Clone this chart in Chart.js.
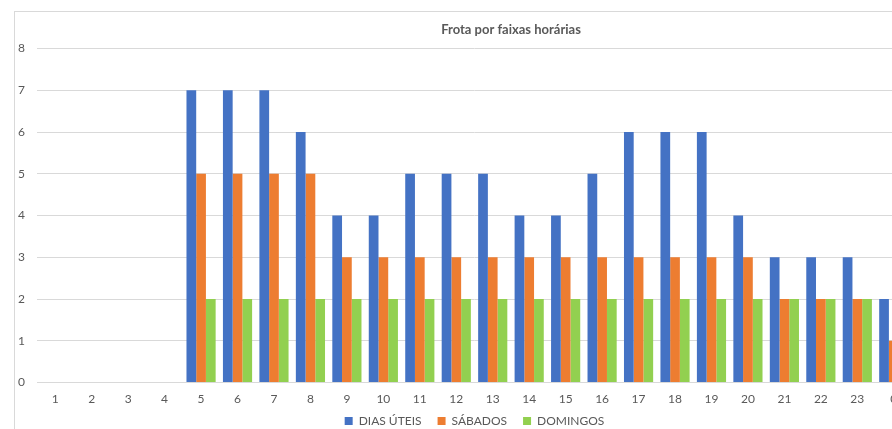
<!DOCTYPE html>
<html>
<head>
<meta charset="utf-8">
<script src="https://cdn.jsdelivr.net/npm/chart.js@4.4.0/dist/chart.umd.min.js"></script>
<style>
  html, body { margin: 0; padding: 0; background: #fff; overflow: hidden; }
  #frame {
    position: absolute; left: 14px; top: 11px;
    width: 992px; height: 450px;
    border: 1px solid #d9d9d9;
  }
  canvas { display: block; }
</style>
</head>
<body>
<div id="frame"><canvas id="chart" width="992" height="441"></canvas></div>
<script>
// Hours on the x axis (last one is midnight)
const hours = ['1', '2', '3', '4', '5', '6', '7', '8', '9', '10', '11', '12',
    '13', '14', '15', '16', '17', '18', '19', '20', '21', '22', '23', '0'];

// Fleet per hour band
const diasUteis = [0, 0, 0, 0, 7, 7, 7, 6, 4, 4, 5, 5, 5, 4, 4, 5, 6, 6, 6, 4, 3, 3, 3, 2];
const sabados   = [0, 0, 0, 0, 5, 5, 5, 5, 3, 3, 3, 3, 3, 3, 3, 3, 3, 3, 3, 3, 2, 2, 2, 1];
const domingos  = [0, 0, 0, 0, 2, 2, 2, 2, 2, 2, 2, 2, 2, 2, 2, 2, 2, 2, 2, 2, 2, 2, 2, 1];

const textColor = '#595959';
const gridColor = '#d9d9d9';
const fontFamily = 'Lato, "Open Sans", sans-serif';

// Title centred on the whole chart, legend pulled up closer to the axis
const layoutTweaks = {
    id: 'layoutTweaks',
    afterLayout(chart) {
        const t = chart.titleBlock;
        if (t) {
            t.left = 0;
            t.right = chart.width;
            t.width = chart.width;
        }
        const l = chart.legend;
        if (l) {
            l.top -= 16;
            l.bottom -= 16;
        }
    }
};

const ctx = document.getElementById('chart').getContext('2d');

new Chart(ctx, {
    type: 'bar',
    data: {
        labels: hours,
        datasets: [
            { label: 'DIAS ÚTEIS', data: diasUteis, backgroundColor: '#4472C4' },
            { label: 'SÁBADOS', data: sabados, backgroundColor: '#ED7D31' },
            { label: 'DOMINGOS', data: domingos, backgroundColor: '#92D050' }
        ]
    },
    options: {
        responsive: false,
        animation: false,
        layout: { padding: { left: 0, right: 95, top: 0, bottom: 0 } },
        datasets: {
            bar: { categoryPercentage: 0.8, barPercentage: 1.0, borderWidth: 0 }
        },
        scales: {
            x: {
                grid: { display: false, drawTicks: false },
                border: { color: gridColor },
                ticks: { color: textColor, padding: 9, font: { family: fontFamily, size: 12 } }
            },
            y: {
                min: 0,
                max: 8,
                grid: { color: gridColor, drawTicks: false },
                border: { display: false },
                ticks: { stepSize: 1, color: textColor, padding: 12, font: { family: fontFamily, size: 12 } },
                afterFit: scale => { scale.width = 22; }
            }
        },
        plugins: {
            title: {
                display: true,
                text: 'Frota por faixas horárias',
                color: textColor,
                font: { family: fontFamily, size: 13, weight: 'bold' },
                padding: { top: 10, bottom: 11 }
            },
            legend: {
                position: 'bottom',
                fullSize: false,
                labels: {
                    color: textColor,
                    boxWidth: 8,
                    boxHeight: 8,
                    padding: 16,
                    font: { family: fontFamily, size: 12 }
                }
            },
            tooltip: { enabled: false }
        }
    },
    plugins: [layoutTweaks]
});
</script>
</body>
</html>
